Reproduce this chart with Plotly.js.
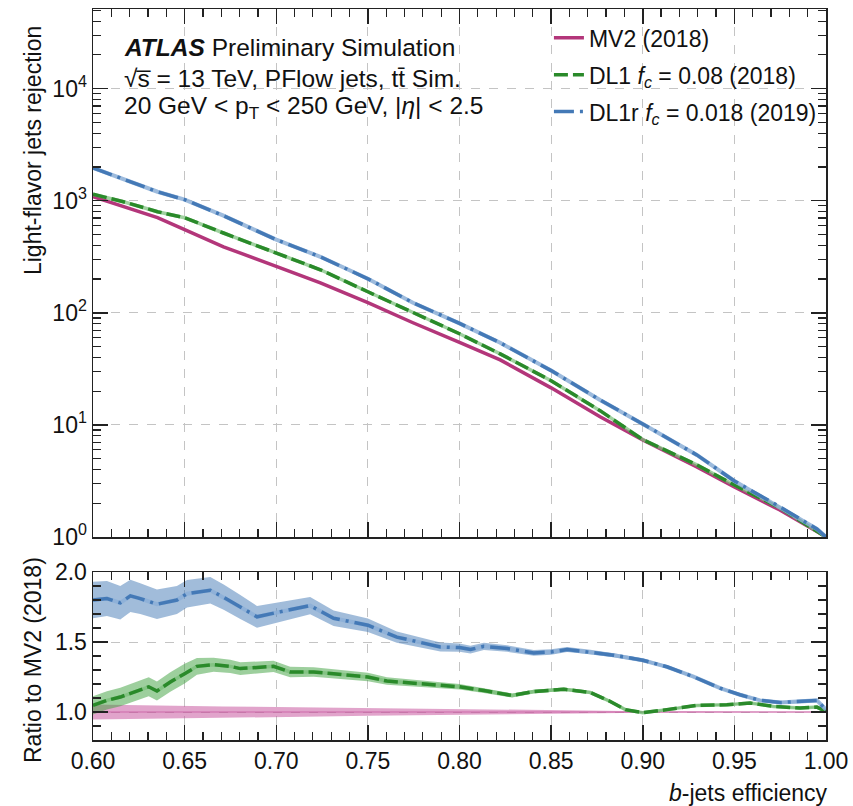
<!DOCTYPE html>
<html><head><meta charset="utf-8">
<script src="https://cdn.plot.ly/plotly-3.0.1.min.js"></script>
<style>html,body{margin:0;padding:0;background:#fff}#chart{width:853px;height:806px}</style>
</head><body><div id="chart"></div>
<script>
// ---- top panel: light-flavour rejection vs b-jet efficiency ----
const effTop  = [0.60, 0.6166, 0.6352, 0.65, 0.6712, 0.70, 0.7241, 0.75, 0.7746, 0.80, 0.8222, 0.85, 0.8767, 0.90, 0.9295, 0.95, 0.9748, 0.995, 1.00];
const mv2Rej  = [1086, 883, 705, 551, 388, 260, 185, 123, 81.5, 54.5, 38.0, 21.4, 11.8, 7.35, 4.22, 2.79, 1.74, 1.12, 1.0];
const dl1Rej  = [1140, 979, 798, 705, 515, 344, 242, 154, 100, 65, 43, 24.8, 13.4, 7.4, 4.4, 2.91, 1.82, 1.13, 1.0];
const dl1rRej = [1960, 1570, 1202, 1021, 735, 449, 316, 201, 123, 80.5, 54, 30.5, 16.7, 10.2, 5.4, 3.16, 1.86, 1.18, 1.0];
const mv2RatioErr = [0.054, 0.05, 0.046, 0.042, 0.04, 0.036, 0.032, 0.027, 0.023, 0.02, 0.016, 0.012, 0.009, 0.006, 0.005, 0.004, 0.003, 0.003, 0.003];

// ---- ratio panel: DL1 / MV2 ----
const effRatioDL1 = [0.600, 0.6076, 0.6149, 0.6222, 0.6304, 0.6349, 0.6422, 0.65, 0.6567, 0.6658, 0.6749, 0.6804, 0.6895, 0.6985, 0.7076, 0.7204, 0.7313, 0.75, 0.7604, 0.7749, 0.7896, 0.80, 0.8133, 0.8287, 0.8405, 0.8569, 0.8714, 0.8823, 0.8905, 0.90, 0.9132, 0.9295, 0.9459, 0.9586, 0.9713, 0.9858, 0.995, 1.0];
const ratioDL1    = [1.048, 1.083, 1.107, 1.143, 1.18, 1.15, 1.214, 1.274, 1.326, 1.338, 1.326, 1.31, 1.317, 1.326, 1.286, 1.286, 1.274, 1.25, 1.221, 1.207, 1.19, 1.18, 1.153, 1.118, 1.146, 1.163, 1.139, 1.075, 1.017, 0.995, 1.017, 1.047, 1.052, 1.064, 1.04, 1.028, 1.035, 1.005];
const errDL1      = [0.065, 0.065, 0.066, 0.067, 0.068, 0.068, 0.07, 0.07, 0.06, 0.05, 0.048, 0.045, 0.042, 0.04, 0.037, 0.034, 0.032, 0.03, 0.027, 0.024, 0.021, 0.02, 0.017, 0.015, 0.013, 0.012, 0.011, 0.01, 0.009, 0.008, 0.008, 0.008, 0.008, 0.008, 0.008, 0.008, 0.008, 0.008];

// ---- ratio panel: DL1r / MV2 ----
const effRatioDL1r = [0.600, 0.6076, 0.6149, 0.6204, 0.6258, 0.6349, 0.6458, 0.6513, 0.664, 0.6713, 0.6804, 0.6895, 0.70, 0.7185, 0.7313, 0.75, 0.7658, 0.7896, 0.80, 0.806, 0.8133, 0.826, 0.8405, 0.85, 0.8587, 0.8714, 0.8841, 0.90, 0.9132, 0.9277, 0.9422, 0.9531, 0.964, 0.975, 0.9895, 0.995, 1.0];
const ratioDL1r    = [1.80, 1.81, 1.78, 1.83, 1.81, 1.77, 1.80, 1.845, 1.87, 1.82, 1.75, 1.68, 1.71, 1.76, 1.67, 1.62, 1.535, 1.465, 1.46, 1.446, 1.469, 1.453, 1.422, 1.429, 1.446, 1.429, 1.406, 1.37, 1.323, 1.252, 1.17, 1.123, 1.083, 1.068, 1.075, 1.083, 1.017];
const errDL1r      = [0.13, 0.125, 0.12, 0.115, 0.11, 0.105, 0.1, 0.098, 0.095, 0.09, 0.085, 0.078, 0.07, 0.062, 0.055, 0.048, 0.04, 0.032, 0.03, 0.028, 0.026, 0.023, 0.021, 0.02, 0.018, 0.016, 0.014, 0.012, 0.011, 0.01, 0.01, 0.01, 0.01, 0.01, 0.01, 0.01, 0.01];

// ---- ticks / labels ----
const decadeVals = [1, 10, 100, 1000, 10000];
const decadeText = ['10<sup>0</sup>', '10<sup>1</sup>', '10<sup>2</sup>', '10<sup>3</sup>', '10<sup>4</sup>'];
const legendNames = ['MV2 (2018)', 'DL1 <i>f<sub>c</sub></i> = 0.08 (2018)', 'DL1r <i>f<sub>c</sub></i> = 0.018 (2019)'];

const C_MV2 = '#b3367a', C_DL1 = '#2a8a2a', C_DL1R = '#4479b6';
const B_MV2 = 'rgba(200,90,160,0.55)', B_DL1 = 'rgba(60,160,60,0.5)', B_DL1R = 'rgba(68,121,182,0.5)';
const H_DL1 = 'rgba(120,190,120,0.7)', H_DL1R = 'rgba(140,175,215,0.85)';
const DASH_DL1 = '14px,5px', DASH_DL1R = '20px,6px,3px,6px';

function band(x, y, e, color) {
  const up = y.map((v, i) => v + e[i]);
  const lo = y.map((v, i) => v - e[i]);
  return {x: x.concat(x.slice().reverse()), y: up.concat(lo.slice().reverse()),
    xaxis: 'x', yaxis: 'y2', type: 'scatter', mode: 'lines', fill: 'toself',
    fillcolor: color, line: {width: 0}, hoverinfo: 'skip', showlegend: false};
}

const mv2Ratio = mv2Rej.map((v, i) => v / mv2Rej[i]);

const minorLog = [];
for (let k = 0; k < 5; k++) for (let m = 2; m <= 9; m++) minorLog.push(m * Math.pow(10, k));

const traces = [
  // top panel
  {x: effTop, y: mv2Rej, xaxis: 'x2', yaxis: 'y', mode: 'lines', name: legendNames[0], legendgroup: 'g1',
   line: {color: C_MV2, width: 3.5}},
  {x: effTop, y: dl1Rej, xaxis: 'x2', yaxis: 'y', mode: 'lines', showlegend: false, hoverinfo: 'skip',
   line: {color: H_DL1, width: 3.5}},
  {x: effTop, y: dl1Rej, xaxis: 'x2', yaxis: 'y', mode: 'lines', name: legendNames[1], legendgroup: 'g2',
   line: {color: C_DL1, width: 3.5, dash: DASH_DL1}},
  {x: effTop, y: dl1rRej, xaxis: 'x2', yaxis: 'y', mode: 'lines', showlegend: false, hoverinfo: 'skip',
   line: {color: H_DL1R, width: 4}},
  {x: effTop, y: dl1rRej, xaxis: 'x2', yaxis: 'y', mode: 'lines', name: legendNames[2], legendgroup: 'g3',
   line: {color: C_DL1R, width: 3.5, dash: DASH_DL1R}},
  // ratio panel
  band(effTop, mv2Ratio, mv2RatioErr, B_MV2),
  {x: effTop, y: mv2Ratio, xaxis: 'x', yaxis: 'y2', mode: 'lines', showlegend: false,
   line: {color: 'rgba(200,90,160,0.8)', width: 1}},
  band(effRatioDL1, ratioDL1, errDL1, B_DL1),
  {x: effRatioDL1, y: ratioDL1, xaxis: 'x', yaxis: 'y2', mode: 'lines', showlegend: false,
   line: {color: H_DL1, width: 3.5}},
  {x: effRatioDL1, y: ratioDL1, xaxis: 'x', yaxis: 'y2', mode: 'lines', showlegend: false,
   line: {color: C_DL1, width: 3.5, dash: DASH_DL1}},
  band(effRatioDL1r, ratioDL1r, errDL1r, B_DL1R),
  {x: effRatioDL1r, y: ratioDL1r, xaxis: 'x', yaxis: 'y2', mode: 'lines', showlegend: false,
   line: {color: H_DL1R, width: 4}},
  {x: effRatioDL1r, y: ratioDL1r, xaxis: 'x', yaxis: 'y2', mode: 'lines', showlegend: false,
   line: {color: C_DL1R, width: 3.5, dash: DASH_DL1R}}
];

const FONT = 'Liberation Sans, Arial, sans-serif';
const axCommon = {
  showline: true, linecolor: '#222', linewidth: 1.5, mirror: 'allticks',
  ticks: 'inside', ticklen: 15, tickwidth: 1.5, tickcolor: '#222',
  showgrid: true, gridcolor: '#c4c4c4', griddash: 'dash', gridwidth: 1,
  zeroline: false, tickfont: {family: FONT, size: 23, color: '#111'}
};

const layout = {
  width: 853, height: 806,
  margin: {l: 93, r: 27, t: 9, b: 66},
  paper_bgcolor: '#fff', plot_bgcolor: '#fff',
  font: {family: FONT, size: 23, color: '#111'},
  showlegend: true,
  legend: {x: 0.622, y: 0.99, xanchor: 'left', yanchor: 'top', bgcolor: 'rgba(0,0,0,0)',
           font: {family: FONT, size: 23, color: '#111'}, tracegroupgap: 4, traceorder: 'grouped'},
  xaxis: Object.assign({}, axCommon, {anchor: 'y2', range: [0.6, 1.0], tick0: 0.6, dtick: 0.05, tickformat: '.2f',
    minor: {ticks: 'inside', ticklen: 8, tickwidth: 1.2, tickcolor: '#222', dtick: 0.01, showgrid: false}}),
  xaxis2: Object.assign({}, axCommon, {anchor: 'y', matches: 'x', range: [0.6, 1.0], tick0: 0.6, dtick: 0.05, showticklabels: false,
    minor: {ticks: 'inside', ticklen: 8, tickwidth: 1.2, tickcolor: '#222', dtick: 0.01, showgrid: false}}),
  yaxis: Object.assign({}, axCommon, {type: 'log', domain: [0.2777, 1], range: [0, 4.71], anchor: 'x2',
    tickmode: 'array', tickvals: decadeVals, ticktext: decadeText,
    minor: {ticks: 'inside', ticklen: 8, tickwidth: 1.2, tickcolor: '#222', tickmode: 'array', tickvals: minorLog, showgrid: false}}),
  yaxis2: Object.assign({}, axCommon, {domain: [0, 0.2298], range: [0.8, 2.0], anchor: 'x', tick0: 1.0, dtick: 0.5, tickformat: '.1f',
    minor: {ticks: 'inside', ticklen: 8, tickwidth: 1.2, tickcolor: '#222', dtick: 0.1, showgrid: false}}),
  annotations: [
    {xref: 'paper', yref: 'paper', x: 0.039, y: 0.948, xanchor: 'left', yanchor: 'middle', showarrow: false,
     text: '<b><i>ATLAS</i></b> Preliminary Simulation', font: {family: FONT, size: 24.5, color: '#111'}},
    {xref: 'paper', yref: 'paper', x: 0.039, y: 0.9056, xanchor: 'left', yanchor: 'middle', showarrow: false,
     text: '√s\u0305 = 13 TeV, PFlow jets, tt\u0304 Sim.', font: {family: FONT, size: 24.5, color: '#111'}},
    {xref: 'paper', yref: 'paper', x: 0.039, y: 0.8646, xanchor: 'left', yanchor: 'middle', showarrow: false,
     text: '20 GeV < p<sub>T</sub> < 250 GeV, |<i>η</i>| < 2.5', font: {family: FONT, size: 24.5, color: '#111'}},
    {xref: 'paper', yref: 'paper', x: -0.0819, y: 0.807, xanchor: 'center', yanchor: 'middle', showarrow: false, textangle: -90,
     text: 'Light-flavor jets rejection', font: {family: FONT, size: 23, color: '#111'}},
    {xref: 'paper', yref: 'paper', x: -0.0819, y: 0.1094, xanchor: 'center', yanchor: 'middle', showarrow: false, textangle: -90,
     text: 'Ratio to MV2 (2018)', font: {family: FONT, size: 23, color: '#111'}},
    {xref: 'paper', yref: 'paper', x: 1.0055, y: -0.0725, xanchor: 'right', yanchor: 'middle', showarrow: false,
     text: '<i>b</i>-jets efficiency', font: {family: FONT, size: 23, color: '#111'}}
  ]
};

Plotly.newPlot('chart', traces, layout, {displayModeBar: false, staticPlot: true});
</script></body></html>
